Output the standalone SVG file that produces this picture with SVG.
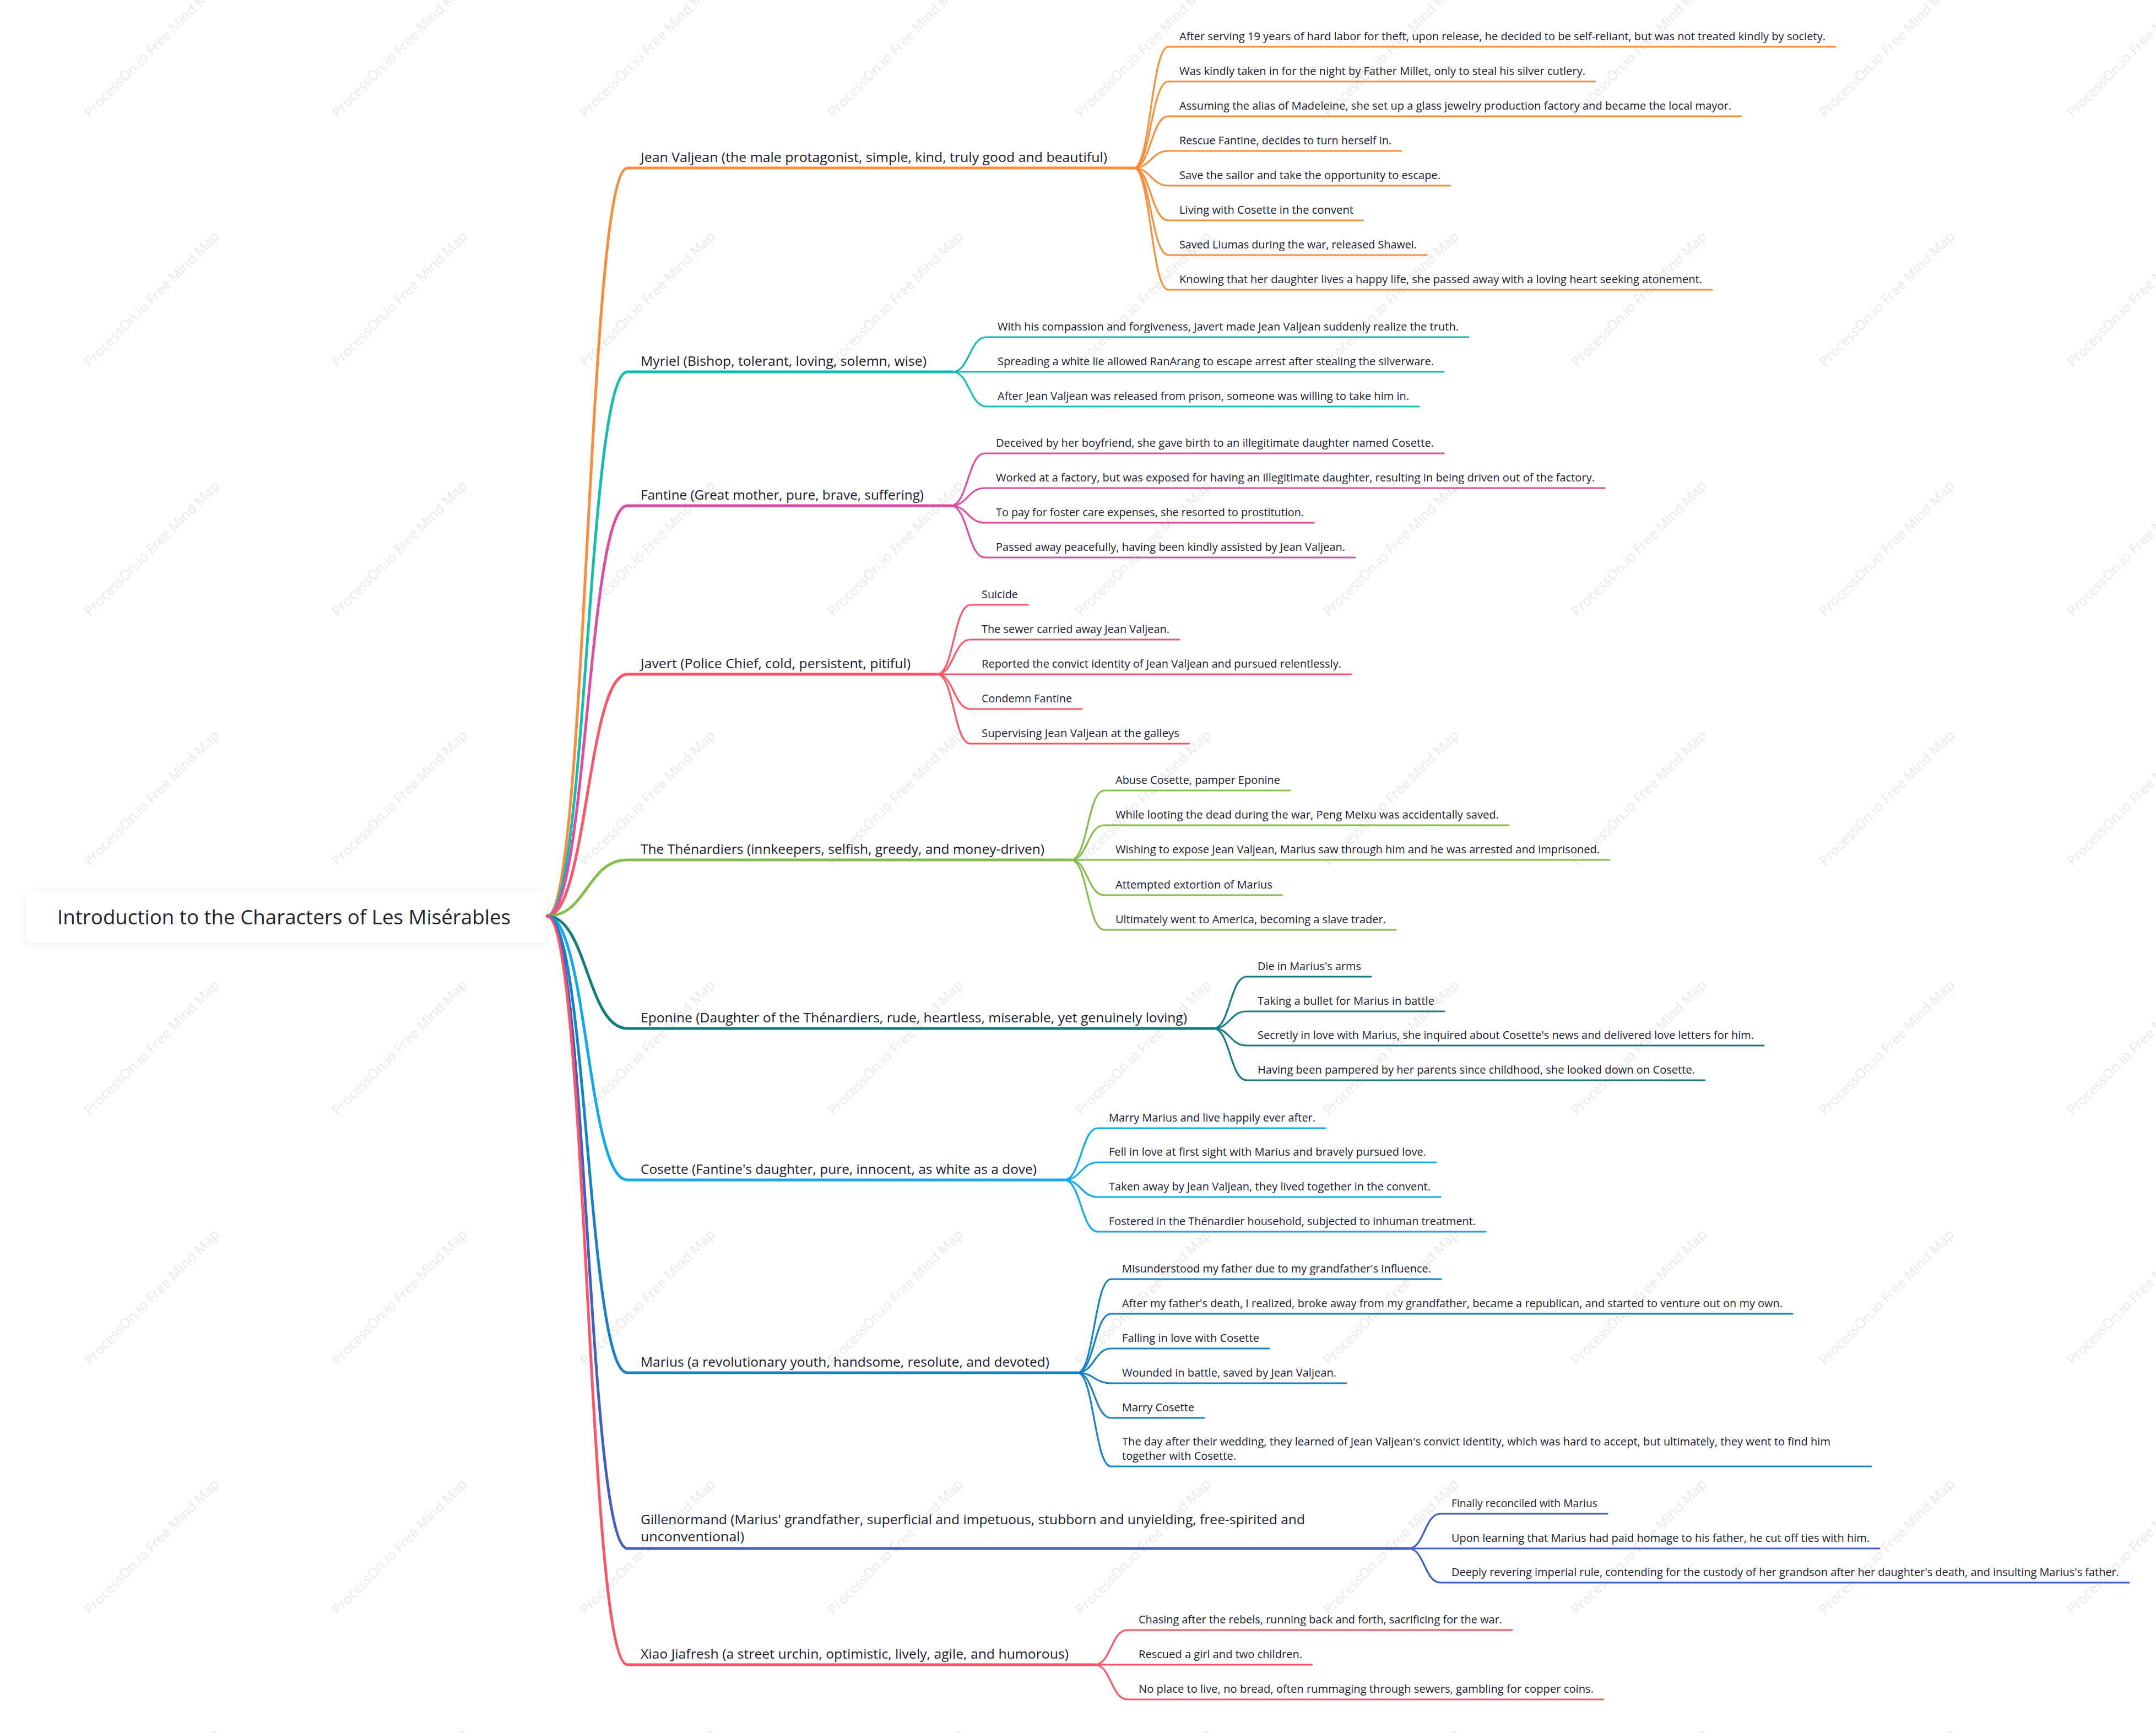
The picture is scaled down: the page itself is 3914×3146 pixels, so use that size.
<svg xmlns="http://www.w3.org/2000/svg" width="3914" height="3146" viewBox="0 0 3914 3146">
<defs>
<filter id="sh" x="-10%" y="-30%" width="120%" height="160%">
<feDropShadow dx="0" dy="2" stdDeviation="6" flood-color="#000" flood-opacity="0.08"/>
</filter>
<style>
.root{font-family:"Open Sans","Noto Sans","DejaVu Sans",sans-serif;font-size:36px;fill:#1f2230;}
.br{font-family:"Open Sans","Noto Sans","DejaVu Sans",sans-serif;font-size:24px;fill:#1b1b2f;}
.lf{font-family:"Open Sans","Noto Sans","DejaVu Sans",sans-serif;font-size:20px;fill:#1b1b2f;}
.wm{font-family:"Open Sans","Noto Sans","DejaVu Sans",sans-serif;font-size:25px;fill:#e9e9e9;}
.c{fill:none;stroke-linecap:round;stroke-linejoin:round;}
.m{stroke-width:5;}
.s{stroke-width:3.2;}
.c1{stroke:#F98D3A;}.c2{stroke:#13BDB0;}.c3{stroke:#DF4BA0;}.c4{stroke:#FC5565;}.c5{stroke:#84BD4B;}
.c6{stroke:#127D7E;}.c7{stroke:#0EA9EE;}.c8{stroke:#1681C6;}.c9{stroke:#405EC6;}.c10{stroke:#FC5565;}
</style>
<text id="wmt" class="wm" transform="rotate(-45)">ProcessOn.io Free Mind Map</text>
</defs>
<rect width="3914" height="3146" fill="#ffffff"/>
<g id="watermark">
<use href="#wmt" x="0" y="0" transform="translate(163 214)"/>
<use href="#wmt" transform="translate(613 214)"/>
<use href="#wmt" transform="translate(1063 214)"/>
<use href="#wmt" transform="translate(1513 214)"/>
<use href="#wmt" transform="translate(1963 214)"/>
<use href="#wmt" transform="translate(2413 214)"/>
<use href="#wmt" transform="translate(2863 214)"/>
<use href="#wmt" transform="translate(3313 214)"/>
<use href="#wmt" transform="translate(3763 214)"/>
<use href="#wmt" transform="translate(163 667)"/>
<use href="#wmt" transform="translate(613 667)"/>
<use href="#wmt" transform="translate(1063 667)"/>
<use href="#wmt" transform="translate(1513 667)"/>
<use href="#wmt" transform="translate(1963 667)"/>
<use href="#wmt" transform="translate(2413 667)"/>
<use href="#wmt" transform="translate(2863 667)"/>
<use href="#wmt" transform="translate(3313 667)"/>
<use href="#wmt" transform="translate(3763 667)"/>
<use href="#wmt" transform="translate(163 1120)"/>
<use href="#wmt" transform="translate(613 1120)"/>
<use href="#wmt" transform="translate(1063 1120)"/>
<use href="#wmt" transform="translate(1513 1120)"/>
<use href="#wmt" transform="translate(1963 1120)"/>
<use href="#wmt" transform="translate(2413 1120)"/>
<use href="#wmt" transform="translate(2863 1120)"/>
<use href="#wmt" transform="translate(3313 1120)"/>
<use href="#wmt" transform="translate(3763 1120)"/>
<use href="#wmt" transform="translate(163 1573)"/>
<use href="#wmt" transform="translate(613 1573)"/>
<use href="#wmt" transform="translate(1063 1573)"/>
<use href="#wmt" transform="translate(1513 1573)"/>
<use href="#wmt" transform="translate(1963 1573)"/>
<use href="#wmt" transform="translate(2413 1573)"/>
<use href="#wmt" transform="translate(2863 1573)"/>
<use href="#wmt" transform="translate(3313 1573)"/>
<use href="#wmt" transform="translate(3763 1573)"/>
<use href="#wmt" transform="translate(163 2026)"/>
<use href="#wmt" transform="translate(613 2026)"/>
<use href="#wmt" transform="translate(1063 2026)"/>
<use href="#wmt" transform="translate(1513 2026)"/>
<use href="#wmt" transform="translate(1963 2026)"/>
<use href="#wmt" transform="translate(2413 2026)"/>
<use href="#wmt" transform="translate(2863 2026)"/>
<use href="#wmt" transform="translate(3313 2026)"/>
<use href="#wmt" transform="translate(3763 2026)"/>
<use href="#wmt" transform="translate(163 2479)"/>
<use href="#wmt" transform="translate(613 2479)"/>
<use href="#wmt" transform="translate(1063 2479)"/>
<use href="#wmt" transform="translate(1513 2479)"/>
<use href="#wmt" transform="translate(1963 2479)"/>
<use href="#wmt" transform="translate(2413 2479)"/>
<use href="#wmt" transform="translate(2863 2479)"/>
<use href="#wmt" transform="translate(3313 2479)"/>
<use href="#wmt" transform="translate(3763 2479)"/>
<use href="#wmt" transform="translate(163 2932)"/>
<use href="#wmt" transform="translate(613 2932)"/>
<use href="#wmt" transform="translate(1063 2932)"/>
<use href="#wmt" transform="translate(1513 2932)"/>
<use href="#wmt" transform="translate(1963 2932)"/>
<use href="#wmt" transform="translate(2413 2932)"/>
<use href="#wmt" transform="translate(2863 2932)"/>
<use href="#wmt" transform="translate(3313 2932)"/>
<use href="#wmt" transform="translate(3763 2932)"/>
<use href="#wmt" transform="translate(163 3385)"/>
<use href="#wmt" transform="translate(613 3385)"/>
<use href="#wmt" transform="translate(1063 3385)"/>
<use href="#wmt" transform="translate(1513 3385)"/>
<use href="#wmt" transform="translate(1963 3385)"/>
<use href="#wmt" transform="translate(2413 3385)"/>
<use href="#wmt" transform="translate(2863 3385)"/>
<use href="#wmt" transform="translate(3313 3385)"/>
<use href="#wmt" transform="translate(3763 3385)"/>
</g>
<g id="connectors">
<path class="c m c1" d="M993 1663 C1066 1663 1066 305 1139 305 H2058"/>
<path class="c m c2" d="M993 1663 C1066 1663 1066 675 1139 675 H1729"/>
<path class="c m c3" d="M993 1663 C1066 1663 1066 918 1139 918 H1726"/>
<path class="c m c4" d="M993 1663 C1066 1663 1066 1224 1139 1224 H1701"/>
<path class="c m c5" d="M993 1663 C1066 1663 1066 1561 1139 1561 H1944"/>
<path class="c m c6" d="M993 1663 C1066 1663 1066 1867 1139 1867 H2203"/>
<path class="c m c7" d="M993 1663 C1066 1663 1066 2142 1139 2142 H1932"/>
<path class="c m c8" d="M993 1663 C1066 1663 1066 2492 1139 2492 H1956"/>
<path class="c m c9" d="M993 1663 C1066 1663 1066 2811 1139 2811 H2557"/>
<path class="c m c10" d="M993 1663 C1066 1663 1066 3022 1139 3022 H1987"/>
<path class="c s c1" d="M2058 305 C2089 305 2090 85 2121 85 H3332"/>
<path class="c s c1" d="M2058 305 C2089 305 2090 148 2121 148 H2896"/>
<path class="c s c1" d="M2058 305 C2089 305 2090 211 2121 211 H3161"/>
<path class="c s c1" d="M2058 305 C2089 305 2090 274 2121 274 H2544"/>
<path class="c s c1" d="M2058 305 C2089 305 2090 337 2121 337 H2633"/>
<path class="c s c1" d="M2058 305 C2089 305 2090 400 2121 400 H2475"/>
<path class="c s c1" d="M2058 305 C2089 305 2090 463 2121 463 H2590"/>
<path class="c s c1" d="M2058 305 C2089 305 2090 526 2121 526 H3108"/>
<path class="c s c2" d="M1729 675 C1760 675 1760 612 1791 612 H2666"/>
<path class="c s c2" d="M1729 675 H2621"/>
<path class="c s c2" d="M1729 675 C1760 675 1760 738 1791 738 H2576"/>
<path class="c s c3" d="M1726 918 C1757 918 1757 823 1788 823 H2621"/>
<path class="c s c3" d="M1726 918 C1757 918 1757 886 1788 886 H2913"/>
<path class="c s c3" d="M1726 918 C1757 918 1757 949 1788 949 H2385"/>
<path class="c s c3" d="M1726 918 C1757 918 1757 1012 1788 1012 H2460"/>
<path class="c s c4" d="M1701 1224 C1732 1224 1731 1098 1762 1098 H1866"/>
<path class="c s c4" d="M1701 1224 C1732 1224 1731 1161 1762 1161 H2141"/>
<path class="c s c4" d="M1701 1224 H2453"/>
<path class="c s c4" d="M1701 1224 C1732 1224 1731 1287 1762 1287 H1964"/>
<path class="c s c4" d="M1701 1224 C1732 1224 1731 1350 1762 1350 H2159"/>
<path class="c s c5" d="M1944 1561 C1975 1561 1974 1435 2005 1435 H2342"/>
<path class="c s c5" d="M1944 1561 C1975 1561 1974 1498 2005 1498 H2739"/>
<path class="c s c5" d="M1944 1561 H2922"/>
<path class="c s c5" d="M1944 1561 C1975 1561 1974 1625 2005 1625 H2328"/>
<path class="c s c5" d="M1944 1561 C1975 1561 1974 1688 2005 1688 H2534"/>
<path class="c s c6" d="M2203 1867 C2233 1867 2233 1773 2263 1773 H2489"/>
<path class="c s c6" d="M2203 1867 C2233 1867 2233 1836 2263 1836 H2622"/>
<path class="c s c6" d="M2203 1867 C2233 1867 2233 1898 2263 1898 H3202"/>
<path class="c s c6" d="M2203 1867 C2233 1867 2233 1961 2263 1961 H3095"/>
<path class="c s c7" d="M1932 2142 C1962 2142 1963 2048 1993 2048 H2406"/>
<path class="c s c7" d="M1932 2142 C1962 2142 1963 2110 1993 2110 H2607"/>
<path class="c s c7" d="M1932 2142 C1962 2142 1963 2173 1993 2173 H2615"/>
<path class="c s c7" d="M1932 2142 C1962 2142 1963 2236 1993 2236 H2697"/>
<path class="c s c8" d="M1956 2492 C1986 2492 1987 2322 2017 2322 H2616"/>
<path class="c s c8" d="M1956 2492 C1986 2492 1987 2385 2017 2385 H3254"/>
<path class="c s c8" d="M1956 2492 C1986 2492 1987 2448 2017 2448 H2304"/>
<path class="c s c8" d="M1956 2492 C1986 2492 1987 2511 2017 2511 H2444"/>
<path class="c s c8" d="M1956 2492 C1986 2492 1987 2574 2017 2574 H2186"/>
<path class="c s c8" d="M1956 2492 C1986 2492 1987 2662 2017 2662 H3397"/>
<path class="c s c9" d="M2557 2811 C2586 2811 2586 2748 2615 2748 H2918"/>
<path class="c s c9" d="M2557 2811 H3412"/>
<path class="c s c9" d="M2557 2811 C2586 2811 2586 2873 2615 2873 H3865"/>
<path class="c s c10" d="M1987 3022 C2017 3022 2017 2959 2047 2959 H2745"/>
<path class="c s c10" d="M1987 3022 H2382"/>
<path class="c s c10" d="M1987 3022 C2017 3022 2017 3085 2047 3085 H2911"/>
</g>
<g id="root">
<rect x="46" y="1617" width="945" height="95" rx="10" fill="#ffffff" filter="url(#sh)"/>
<text class="root" x="104" y="1678" textLength="823" lengthAdjust="spacingAndGlyphs">Introduction to the Characters of Les Misérables</text>
</g>
<g id="jean-valjean">
<text class="br" x="1163" y="294" textLength="847" lengthAdjust="spacingAndGlyphs">Jean Valjean (the male protagonist, simple, kind, truly good and beautiful)</text>
<text class="lf" x="2141" y="73" textLength="1173" lengthAdjust="spacingAndGlyphs">After serving 19 years of hard labor for theft, upon release, he decided to be self-reliant, but was not treated kindly by society.</text>
<text class="lf" x="2141" y="136" textLength="737" lengthAdjust="spacingAndGlyphs">Was kindly taken in for the night by Father Millet, only to steal his silver cutlery.</text>
<text class="lf" x="2141" y="199" textLength="1002" lengthAdjust="spacingAndGlyphs">Assuming the alias of Madeleine, she set up a glass jewelry production factory and became the local mayor.</text>
<text class="lf" x="2141" y="262" textLength="385" lengthAdjust="spacingAndGlyphs">Rescue Fantine, decides to turn herself in.</text>
<text class="lf" x="2141" y="325" textLength="474" lengthAdjust="spacingAndGlyphs">Save the sailor and take the opportunity to escape.</text>
<text class="lf" x="2141" y="388" textLength="316" lengthAdjust="spacingAndGlyphs">Living with Cosette in the convent</text>
<text class="lf" x="2141" y="451" textLength="431" lengthAdjust="spacingAndGlyphs">Saved Liumas during the war, released Shawei.</text>
<text class="lf" x="2141" y="514" textLength="949" lengthAdjust="spacingAndGlyphs">Knowing that her daughter lives a happy life, she passed away with a loving heart seeking atonement.</text>
</g>
<g id="myriel">
<text class="br" x="1163" y="664" textLength="519" lengthAdjust="spacingAndGlyphs">Myriel (Bishop, tolerant, loving, solemn, wise)</text>
<text class="lf" x="1811" y="600" textLength="837" lengthAdjust="spacingAndGlyphs">With his compassion and forgiveness, Javert made Jean Valjean suddenly realize the truth.</text>
<text class="lf" x="1811" y="663" textLength="792" lengthAdjust="spacingAndGlyphs">Spreading a white lie allowed RanArang to escape arrest after stealing the silverware.</text>
<text class="lf" x="1811" y="726" textLength="747" lengthAdjust="spacingAndGlyphs">After Jean Valjean was released from prison, someone was willing to take him in.</text>
</g>
<g id="fantine">
<text class="br" x="1163" y="907" textLength="514" lengthAdjust="spacingAndGlyphs">Fantine (Great mother, pure, brave, suffering)</text>
<text class="lf" x="1808" y="811" textLength="795" lengthAdjust="spacingAndGlyphs">Deceived by her boyfriend, she gave birth to an illegitimate daughter named Cosette.</text>
<text class="lf" x="1808" y="874" textLength="1087" lengthAdjust="spacingAndGlyphs">Worked at a factory, but was exposed for having an illegitimate daughter, resulting in being driven out of the factory.</text>
<text class="lf" x="1808" y="937" textLength="559" lengthAdjust="spacingAndGlyphs">To pay for foster care expenses, she resorted to prostitution.</text>
<text class="lf" x="1808" y="1000" textLength="634" lengthAdjust="spacingAndGlyphs">Passed away peacefully, having been kindly assisted by Jean Valjean.</text>
</g>
<g id="javert">
<text class="br" x="1163" y="1213" textLength="490" lengthAdjust="spacingAndGlyphs">Javert (Police Chief, cold, persistent, pitiful)</text>
<text class="lf" x="1782" y="1086" textLength="66" lengthAdjust="spacingAndGlyphs">Suicide</text>
<text class="lf" x="1782" y="1149" textLength="341" lengthAdjust="spacingAndGlyphs">The sewer carried away Jean Valjean.</text>
<text class="lf" x="1782" y="1212" textLength="653" lengthAdjust="spacingAndGlyphs">Reported the convict identity of Jean Valjean and pursued relentlessly.</text>
<text class="lf" x="1782" y="1275" textLength="164" lengthAdjust="spacingAndGlyphs">Condemn Fantine</text>
<text class="lf" x="1782" y="1338" textLength="359" lengthAdjust="spacingAndGlyphs">Supervising Jean Valjean at the galleys</text>
</g>
<g id="thenardiers">
<text class="br" x="1163" y="1550" textLength="733" lengthAdjust="spacingAndGlyphs">The Thénardiers (innkeepers, selfish, greedy, and money-driven)</text>
<text class="lf" x="2025" y="1423" textLength="299" lengthAdjust="spacingAndGlyphs">Abuse Cosette, pamper Eponine</text>
<text class="lf" x="2025" y="1486" textLength="696" lengthAdjust="spacingAndGlyphs">While looting the dead during the war, Peng Meixu was accidentally saved.</text>
<text class="lf" x="2025" y="1549" textLength="879" lengthAdjust="spacingAndGlyphs">Wishing to expose Jean Valjean, Marius saw through him and he was arrested and imprisoned.</text>
<text class="lf" x="2025" y="1613" textLength="285" lengthAdjust="spacingAndGlyphs">Attempted extortion of Marius</text>
<text class="lf" x="2025" y="1676" textLength="491" lengthAdjust="spacingAndGlyphs">Ultimately went to America, becoming a slave trader.</text>
</g>
<g id="eponine">
<text class="br" x="1163" y="1856" textLength="992" lengthAdjust="spacingAndGlyphs">Eponine (Daughter of the Thénardiers, rude, heartless, miserable, yet genuinely loving)</text>
<text class="lf" x="2283" y="1761" textLength="188" lengthAdjust="spacingAndGlyphs">Die in Marius's arms</text>
<text class="lf" x="2283" y="1824" textLength="321" lengthAdjust="spacingAndGlyphs">Taking a bullet for Marius in battle</text>
<text class="lf" x="2283" y="1886" textLength="901" lengthAdjust="spacingAndGlyphs">Secretly in love with Marius, she inquired about Cosette's news and delivered love letters for him.</text>
<text class="lf" x="2283" y="1949" textLength="794" lengthAdjust="spacingAndGlyphs">Having been pampered by her parents since childhood, she looked down on Cosette.</text>
</g>
<g id="cosette">
<text class="br" x="1163" y="2131" textLength="719" lengthAdjust="spacingAndGlyphs">Cosette (Fantine's daughter, pure, innocent, as white as a dove)</text>
<text class="lf" x="2013" y="2036" textLength="375" lengthAdjust="spacingAndGlyphs">Marry Marius and live happily ever after.</text>
<text class="lf" x="2013" y="2098" textLength="576" lengthAdjust="spacingAndGlyphs">Fell in love at first sight with Marius and bravely pursued love.</text>
<text class="lf" x="2013" y="2161" textLength="584" lengthAdjust="spacingAndGlyphs">Taken away by Jean Valjean, they lived together in the convent.</text>
<text class="lf" x="2013" y="2224" textLength="666" lengthAdjust="spacingAndGlyphs">Fostered in the Thénardier household, subjected to inhuman treatment.</text>
</g>
<g id="marius">
<text class="br" x="1163" y="2481" textLength="742" lengthAdjust="spacingAndGlyphs">Marius (a revolutionary youth, handsome, resolute, and devoted)</text>
<text class="lf" x="2037" y="2310" textLength="561" lengthAdjust="spacingAndGlyphs">Misunderstood my father due to my grandfather's influence.</text>
<text class="lf" x="2037" y="2373" textLength="1199" lengthAdjust="spacingAndGlyphs">After my father's death, I realized, broke away from my grandfather, became a republican, and started to venture out on my own.</text>
<text class="lf" x="2037" y="2436" textLength="249" lengthAdjust="spacingAndGlyphs">Falling in love with Cosette</text>
<text class="lf" x="2037" y="2499" textLength="389" lengthAdjust="spacingAndGlyphs">Wounded in battle, saved by Jean Valjean.</text>
<text class="lf" x="2037" y="2562" textLength="131" lengthAdjust="spacingAndGlyphs">Marry Cosette</text>
<text class="lf" x="2037" y="2624" textLength="1286" lengthAdjust="spacingAndGlyphs">The day after their wedding, they learned of Jean Valjean's convict identity, which was hard to accept, but ultimately, they went to find him</text>
<text class="lf" x="2037" y="2650" textLength="207" lengthAdjust="spacingAndGlyphs">together with Cosette.</text>
</g>
<g id="gillenormand">
<text class="br" x="1163" y="2767" textLength="1206" lengthAdjust="spacingAndGlyphs">Gillenormand (Marius' grandfather, superficial and impetuous, stubborn and unyielding, free-spirited and</text>
<text class="br" x="1163" y="2798" textLength="188" lengthAdjust="spacingAndGlyphs">unconventional)</text>
<text class="lf" x="2635" y="2736" textLength="265" lengthAdjust="spacingAndGlyphs">Finally reconciled with Marius</text>
<text class="lf" x="2635" y="2799" textLength="759" lengthAdjust="spacingAndGlyphs">Upon learning that Marius had paid homage to his father, he cut off ties with him.</text>
<text class="lf" x="2635" y="2861" textLength="1212" lengthAdjust="spacingAndGlyphs">Deeply revering imperial rule, contending for the custody of her grandson after her daughter's death, and insulting Marius's father.</text>
</g>
<g id="xiao-jiafresh">
<text class="br" x="1163" y="3011" textLength="777" lengthAdjust="spacingAndGlyphs">Xiao Jiafresh (a street urchin, optimistic, lively, agile, and humorous)</text>
<text class="lf" x="2067" y="2947" textLength="660" lengthAdjust="spacingAndGlyphs">Chasing after the rebels, running back and forth, sacrificing for the war.</text>
<text class="lf" x="2067" y="3010" textLength="297" lengthAdjust="spacingAndGlyphs">Rescued a girl and two children.</text>
<text class="lf" x="2067" y="3073" textLength="826" lengthAdjust="spacingAndGlyphs">No place to live, no bread, often rummaging through sewers, gambling for copper coins.</text>
</g>
</svg>
